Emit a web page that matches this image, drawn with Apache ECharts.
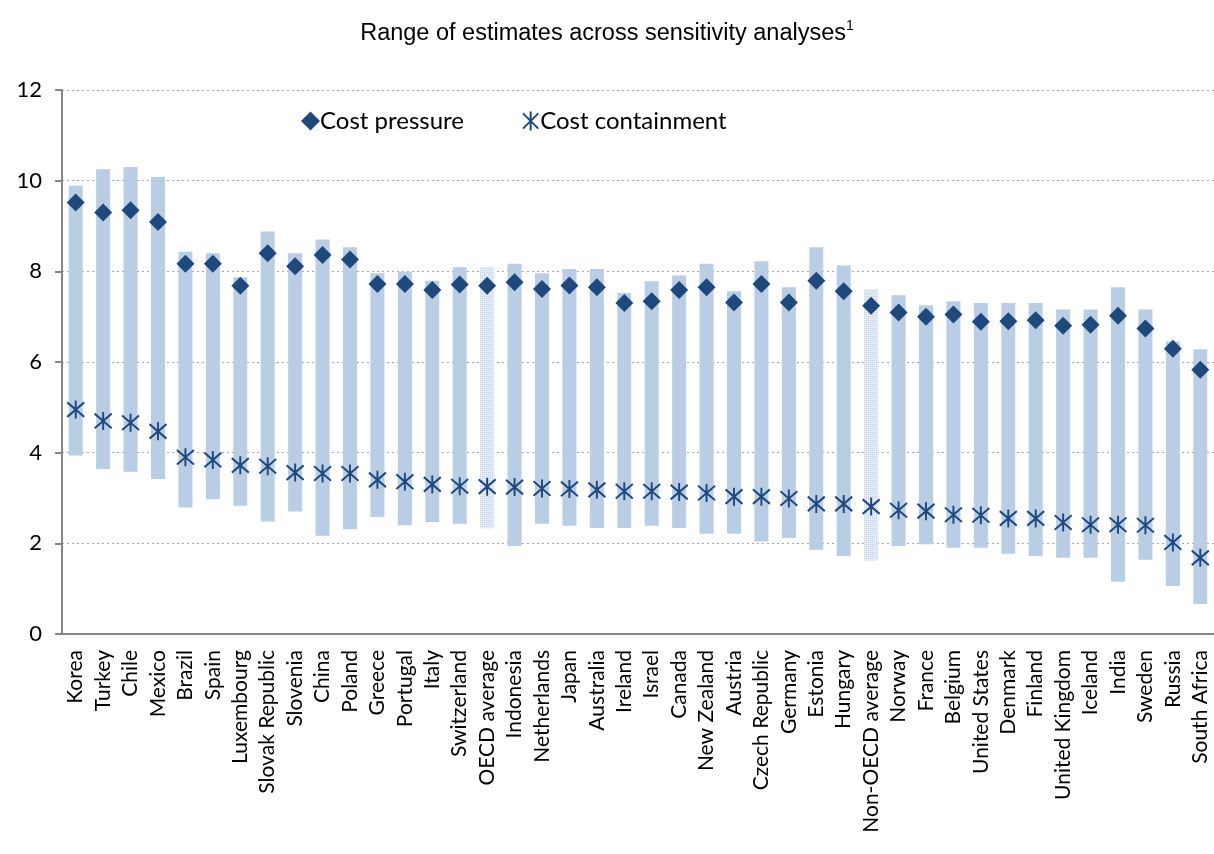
<!DOCTYPE html>
<html>
<head>
<meta charset="utf-8">
<script src="https://cdn.jsdelivr.net/npm/echarts@6/dist/echarts.min.js"></script>
<style>
html,body{margin:0;padding:0;background:#fff;}
#chart{width:1214px;height:854px;}
</style>
</head>
<body>
<div id="chart"></div>
<script>
const categories = ["Korea","Turkey","Chile","Mexico","Brazil","Spain","Luxembourg","Slovak Republic","Slovenia","China","Poland","Greece","Portugal","Italy","Switzerland","OECD average","Indonesia","Netherlands","Japan","Australia","Ireland","Israel","Canada","New Zealand","Austria","Czech Republic","Germany","Estonia","Hungary","Non-OECD average","Norway","France","Belgium","United States","Denmark","Finland","United Kingdom","Iceland","India","Sweden","Russia","South Africa"];
const rangeLow  = [3.94,3.64,3.58,3.42,2.79,2.97,2.83,2.48,2.70,2.17,2.31,2.58,2.40,2.47,2.43,2.33,1.94,2.43,2.39,2.34,2.34,2.39,2.34,2.21,2.21,2.04,2.12,1.86,1.72,1.62,1.94,1.98,1.90,1.90,1.77,1.72,1.68,1.68,1.15,1.64,1.06,0.66];
const rangeHigh = [9.89,10.25,10.30,10.08,8.43,8.40,7.87,8.88,8.40,8.70,8.53,7.96,7.99,7.79,8.09,8.09,8.17,7.96,8.05,8.05,7.52,7.78,7.91,8.17,7.56,8.22,7.65,8.53,8.13,7.61,7.47,7.25,7.34,7.30,7.30,7.30,7.16,7.16,7.65,7.16,6.45,6.28];
const costPressure = [9.52,9.30,9.35,9.09,8.17,8.17,7.68,8.40,8.11,8.36,8.26,7.72,7.72,7.59,7.71,7.68,7.76,7.61,7.69,7.65,7.30,7.34,7.59,7.65,7.31,7.72,7.31,7.79,7.56,7.24,7.09,7.00,7.05,6.89,6.90,6.92,6.80,6.82,7.02,6.74,6.29,5.83];
const costContainment = [4.95,4.70,4.66,4.47,3.90,3.84,3.72,3.70,3.56,3.54,3.54,3.40,3.36,3.30,3.26,3.25,3.24,3.21,3.20,3.18,3.15,3.15,3.13,3.11,3.03,3.03,2.99,2.87,2.87,2.81,2.73,2.71,2.63,2.62,2.55,2.55,2.46,2.41,2.41,2.40,2.02,1.68];
const yTicks = [0,2,4,6,8,10,12];
const averageGroups = ["OECD average","Non-OECD average"];

const BAR = '#B9CDE5';
const DARK = '#1F497D';
const asterisk = 'path://M0,0L10,10M10,0L0,10M5,-1.2L5,11.2';
const SANS = 'Lato, "Noto Sans", sans-serif';

const chart = echarts.init(document.getElementById('chart'), null, {renderer:'canvas'});

const spanData = categories.map((c,i) => {
  const v = +(rangeHigh[i] - rangeLow[i]).toFixed(2);
  if (averageGroups.includes(c)) {
    return {value: v, itemStyle: {color: '#E6EDF6', decal: {
      symbol: 'rect', symbolSize: 1, dashArrayX: [1, 1], dashArrayY: [1, 1], color: 'rgba(185,205,229,0.9)'
    }}};
  }
  return v;
});

const option = {
  animation: false,
  title: {
    text: '{a|Range of estimates across sensitivity analyses}{s|1}',
    left: 'center',
    top: 14,
    textStyle: {
      fontWeight: 'normal',
      rich: {
        a: {fontFamily: 'Arial, Liberation Sans', fontSize: 23.5, fontWeight: 'normal', color: '#000', lineHeight: 30},
        s: {fontFamily: 'Arial, Liberation Sans', fontSize: 14, fontWeight: 'normal', color: '#000', verticalAlign: 'top', lineHeight: 30, padding:[0,0,12,0]}
      }
    }
  },
  legend: {
    data: ['Cost pressure', 'Cost containment'],
    left: 296,
    top: 104,
    itemGap: 58,
    itemWidth: 19,
    itemHeight: 19,
    textStyle: {fontFamily: SANS, fontSize: 24, color: '#000', padding: [0,0,0,-5]}
  },
  grid: {left: 62, right: 0, top: 90, bottom: 220, containLabel: false},
  xAxis: {
    type: 'category',
    data: categories,
    axisLine: {show: true, lineStyle: {color: '#868686', width: 2}},
    axisTick: {show: false},
    axisLabel: {rotate: 90, interval: 0, fontFamily: SANS, fontSize: 21, color: '#000', margin: 16}
  },
  yAxis: {
    type: 'value',
    min: yTicks[0],
    max: yTicks[yTicks.length-1],
    interval: 2,
    axisLine: {show: true, lineStyle: {color: '#868686', width: 2}},
    axisTick: {show: true, inside: false, length: 7, lineStyle: {color: '#868686', width: 2}},
    axisLabel: {fontFamily: SANS, fontSize: 22, color: '#000', margin: 20},
    splitLine: {show: true, lineStyle: {color: '#A6A6A6', type: [2,3], width: 1.2}}
  },
  series: [
    {name: 'low', type: 'bar', stack: 'range', data: rangeLow, barWidth: 14,
     itemStyle: {color: 'transparent'}, silent: true, z: 1},
    {name: 'range', type: 'bar', stack: 'range', data: spanData, barWidth: 14,
     itemStyle: {color: BAR}, silent: true, z: 1},
    {name: 'Cost pressure', type: 'scatter', data: costPressure, symbol: 'diamond', symbolSize: [18,18],
     itemStyle: {color: DARK, opacity: 1}, z: 3},
    {name: 'Cost containment', type: 'scatter', data: costContainment, symbol: asterisk, symbolSize: [17,18],
     itemStyle: {color: 'rgba(0,0,0,0)', borderColor: DARK, borderWidth: 2, opacity: 1}, z: 3}
  ]
};
chart.setOption(option);
</script>
</body>
</html>
